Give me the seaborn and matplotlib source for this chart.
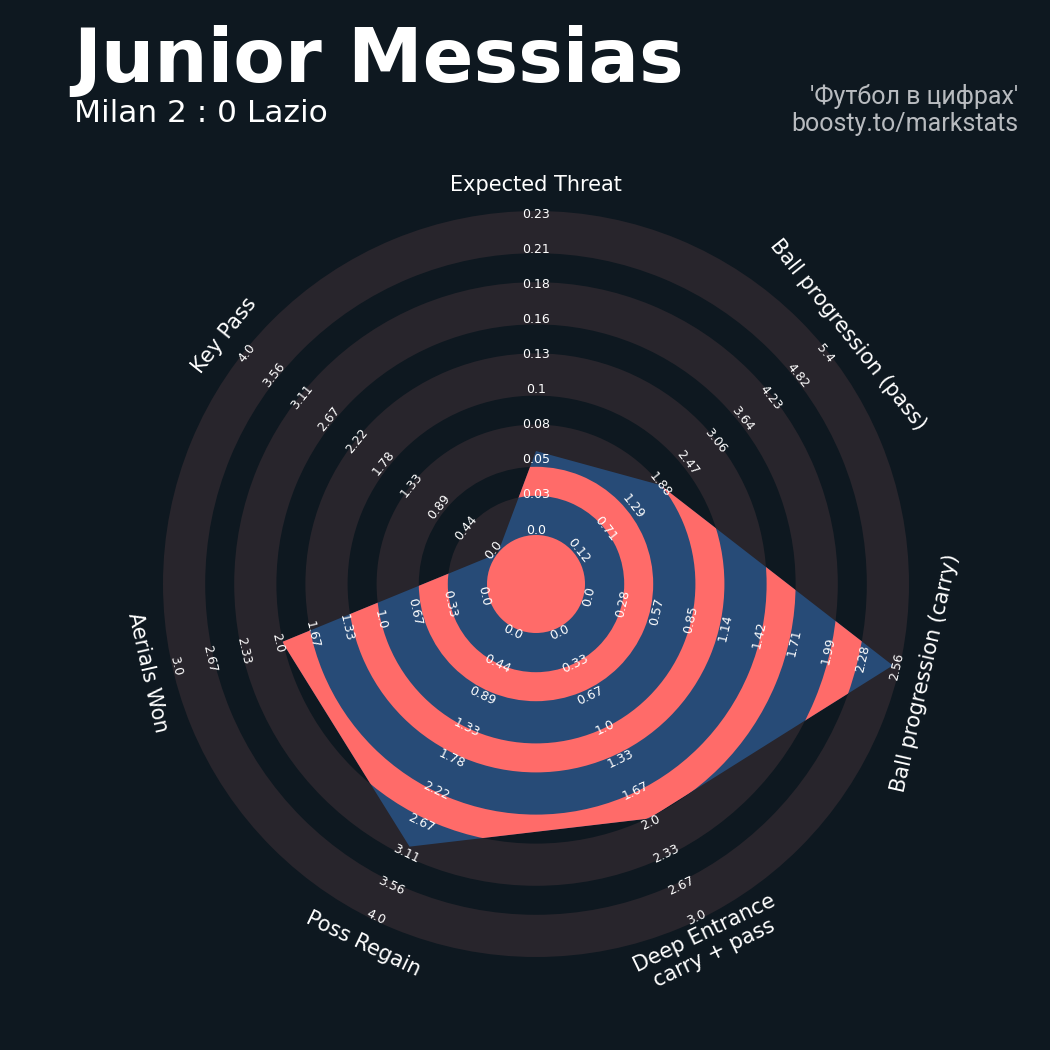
import numpy as np
import matplotlib
matplotlib.use("Agg")
import matplotlib.pyplot as plt
from matplotlib.patches import Circle, Wedge, Polygon
import seaborn as sns

# ---------------- data ----------------
params = ["Expected Threat", "Ball progression (pass)", "Ball progression (carry)",
          "Deep Entrance\ncarry + pass", "Poss Regain", "Aerials Won", "Key Pass"]
low = [0.0, 0.12, 0.0, 0.0, 0.0, 0.0, 0.0]
high = [0.234, 5.404, 2.56, 3.0, 4.0, 3.0, 4.0]
values = [0.062, 1.95, 2.56, 2.0, 3.06, 2.0, 0.0]

title = "Junior Messias"
subtitle = "Milan 2 : 0 Lazio"
credit_1 = "'Футбол в цифрах'"
credit_2 = "boosty.to/markstats"

# ---------------- style ----------------
BG = "#0e1820"
RING = "#28252c"
BLUE = "#274b77"
CORAL = "#ff6b69"
WHITE = "#ffffff"
GREY = "#b8bbbf"

sns.set_theme(style="dark", rc={"axes.facecolor": BG, "figure.facecolor": BG,
                                "savefig.facecolor": BG})
plt.rcParams["font.family"] = ["DejaVu Sans"]

# geometry (1 data unit = 1 px)
CX, CY = 536, 584
R0 = 49.0          # center circle / value minimum
RSPAN = 317.0      # radius span from min to max
LBL0, LBLSTEP = 54.0, 35.1
BAND0, BANDW, PERIOD = 46.0, 42.2, 71.2
GAPW = PERIOD - BANDW
PARAM_R = 399.0

fig = plt.figure(figsize=(10.5, 10.5), dpi=100)
ax = fig.add_axes([0, 0, 1, 1])
ax.set_xlim(-CX, 1050 - CX)
ax.set_ylim(-(1050 - CY), CY)
ax.set_aspect("equal")
ax.axis("off")

n = len(params)
angles = np.deg2rad(90 - np.arange(n) * 360.0 / n)

# background rings
for k in range(5):
    ax.add_patch(Wedge((0, 0), BAND0 + k * PERIOD + BANDW, 0, 360, width=BANDW,
                       facecolor=RING, edgecolor="none", zorder=1))

# radar polygon
lo = np.array(low); hi = np.array(high); vals = np.array(values)
rad = R0 + (vals - lo) / (hi - lo) * RSPAN
pts = np.column_stack([rad * np.cos(angles), rad * np.sin(angles)])
poly = Polygon(pts, closed=True, facecolor=BLUE, edgecolor="none", zorder=2)
ax.add_patch(poly)

# coral rings clipped to polygon
for k in range(4):
    w = Wedge((0, 0), BAND0 + BANDW + k * PERIOD + GAPW, 0, 360, width=GAPW,
              facecolor=CORAL, edgecolor="none", zorder=3)
    ax.add_patch(w)
    w.set_clip_path(poly)
ax.add_patch(Circle((0, 0), R0, facecolor=CORAL, edgecolor="none", zorder=3))


def text_rot(theta_deg):
    rot = theta_deg - 90
    rot = (rot + 180) % 360 - 180
    if rot < -90:
        rot += 180
    elif rot > 90:
        rot -= 180
    return rot


# range labels and param labels
for i in range(n):
    th = angles[i]
    rot = text_rot(np.rad2deg(th))
    for k in range(10):
        v = low[i] + k * (high[i] - low[i]) / 9
        r = LBL0 + k * LBLSTEP
        ax.text(r * np.cos(th), r * np.sin(th), str(round(float(v), 2)),
                ha="center", va="center", rotation=rot, fontsize=9,
                color=WHITE, zorder=5)
    ax.text(PARAM_R * np.cos(th), PARAM_R * np.sin(th), params[i],
            ha="center", va="center", ma="center", rotation=rot, fontsize=15,
            color=WHITE, zorder=5, linespacing=1.1)

# titles
fig.text(73 / 1050, 1 - 82 / 1050, title, fontsize=54, fontweight="bold",
         color=WHITE, ha="left", va="baseline")
fig.text(74 / 1050, 1 - 122 / 1050, subtitle, fontsize=22.5,
         color=WHITE, ha="left", va="baseline")
fig.text(1018 / 1050, 1 - 104 / 1050, credit_1, fontsize=18, family="Roboto",
         color=GREY, ha="right", va="baseline")
fig.text(1018 / 1050, 1 - 131 / 1050, credit_2, fontsize=18, family="Roboto",
         color=GREY, ha="right", va="baseline")

fig.savefig("out.png", dpi=100, facecolor=BG)
